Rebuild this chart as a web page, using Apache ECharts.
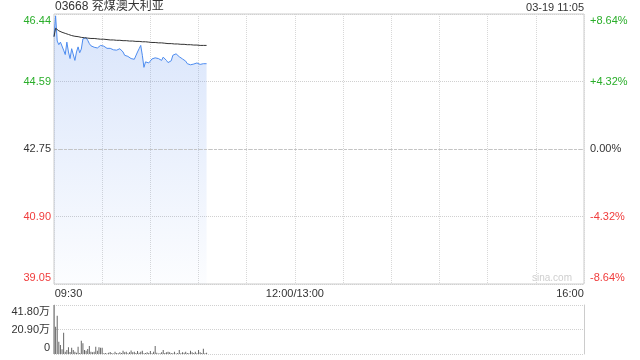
<!DOCTYPE html>
<html><head><meta charset="utf-8">
<script src="https://cdn.jsdelivr.net/npm/echarts@6/dist/echarts.min.js"></script>
<style>html,body{margin:0;padding:0;background:#fff}#c{width:640px;height:360px}</style>
</head><body><div id="c"></div>
<script>
const stockName = '03668 兖煤澳大利亚';
const stamp = '03-19 11:05';
const prevClose = 42.75;
const priceMin = 39.05, priceMax = 46.44;
const priceTicks = ['39.05', '40.90', '42.75', '44.59', '46.44'];
const pctTicks = ['-8.64%', '-4.32%', '0.00%', '+4.32%', '+8.64%'];
const timeTicks = { 0: '09:30', 150: '12:00/13:00', 330: '16:00' };
const volTicks = ['0', '20.90万', '41.80万'];
const volMax = 418000;

const prices = [
  45.82, 46.39, 45.70, 45.60, 45.67, 45.62, 45.45, 45.33, 45.67, 45.40,
  45.22, 45.49, 45.45, 45.17, 45.40, 45.54, 45.38, 45.48, 45.76, 45.78,
  45.79, 45.72, 45.63, 45.57, 45.55, 45.53, 45.49, 45.51, 45.54, 45.58,
  45.57, 45.56, 45.54, 45.50, 45.47, 45.50, 45.51, 45.46, 45.48, 45.45,
  45.47, 45.49, 45.44, 45.40, 45.31, 45.30, 45.28, 45.25, 45.22, 45.19,
  45.20, 45.22, 45.40, 45.49, 45.58, 45.31, 44.98, 45.13, 45.08, 45.10,
  45.15, 45.21, 45.17, 45.24, 45.20, 45.22, 45.24, 45.17, 45.26, 45.31,
  45.17, 45.11, 45.13, 45.16, 45.31, 45.35, 45.35, 45.33, 45.27, 45.23,
  45.21, 45.22, 45.15, 45.08, 45.03, 45.05, 45.08, 45.07, 45.08, 45.10,
  45.08, 45.06, 45.06, 45.08, 45.06, 45.08
];
const avgPrices = [
  45.82, 46.05, 46.01, 45.98, 45.96, 45.94, 45.92, 45.91, 45.90, 45.88,
  45.87, 45.85, 45.84, 45.83, 45.82, 45.82, 45.81, 45.80, 45.80, 45.79,
  45.79, 45.78, 45.78, 45.77, 45.77, 45.77, 45.76, 45.76, 45.76, 45.75,
  45.75, 45.75, 45.74, 45.74, 45.74, 45.73, 45.73, 45.73, 45.72, 45.72,
  45.72, 45.72, 45.71, 45.71, 45.71, 45.71, 45.70, 45.70, 45.70, 45.70,
  45.69, 45.69, 45.69, 45.69, 45.68, 45.68, 45.68, 45.68, 45.67, 45.67,
  45.67, 45.66, 45.66, 45.66, 45.65, 45.65, 45.65, 45.65, 45.64, 45.64,
  45.64, 45.63, 45.63, 45.63, 45.62, 45.62, 45.62, 45.62, 45.61, 45.61,
  45.61, 45.61, 45.60, 45.60, 45.60, 45.60, 45.59, 45.59, 45.59, 45.59,
  45.59, 45.58, 45.58, 45.58, 45.58, 45.58
];
const volumes = [
  418000, 233000, 327000, 105000, 77000, 40000, 182000, 20000, 34000, 57000,
  17000, 54000, 34000, 20000, 11000, 62000, 8000, 113000, 91000, 34000,
  28000, 43000, 68000, 20000, 14000, 20000, 62000, 28000, 57000, 54000,
  54000, 6000, 8000, 5000, 11000, 17000, 8000, 5000, 20000, 8000,
  6000, 14000, 9000, 28000, 14000, 20000, 7000, 14000, 30000, 14000,
  20000, 9000, 25000, 11000, 20000, 28000, 6000, 8000, 14000, 8000,
  25000, 7000, 20000, 68000, 11000, 5000, 6000, 14000, 34000, 8000,
  14000, 20000, 14000, 8000, 6000, 20000, 5000, 8000, 34000, 7000,
  14000, 11000, 20000, 8000, 6000, 28000, 14000, 8000, 20000, 7000,
  34000, 14000, 8000, 45000, 6000, 11000
];

const FONT = '"Liberation Sans", Arial, "Noto Sans CJK SC", sans-serif';
const GREEN = '#2aae2a', RED = '#f03c3c', DARK = '#333';
function rs(color, pad) { return { color: color, fontSize: 11, fontFamily: FONT, padding: pad }; }
const vRich = {
  gt: rs(GREEN, [13, 0, 0, 0]), g: rs(GREEN, 0), k: rs(DARK, 0), r: rs(RED, 0), rb: rs(RED, [0, 0, 13, 0]),
  kt: rs(DARK, [13, 0, 0, 0]), kb: rs(DARK, [0, 0, 12, 0])
};
const styleByIdx = ['rb', 'r', 'k', 'g', 'gt'];

const chart = echarts.init(document.getElementById('c'), null, { renderer: 'canvas' });
chart.setOption({
  animation: false,
  backgroundColor: '#fff',
  title: [
    { text: stockName, left: 55, top: 1, padding: 0, textStyle: { fontSize: 12, fontWeight: 'normal', color: DARK, fontFamily: FONT } },
    { text: stamp, right: 56, top: 2, padding: 0, textStyle: { fontSize: 11, fontWeight: 'normal', color: DARK, fontFamily: FONT } }
  ],
  graphic: [
    { type: 'text', left: 532, top: 273, silent: true, style: { text: 'sina.com', fill: '#cfcfcf', fontSize: 10, fontFamily: FONT } }
  ],
  grid: [
    { left: 54, width: 530, top: 14, height: 270, show: true, borderColor: '#ccc', borderWidth: 1, backgroundColor: 'transparent' },
    { left: 54, width: 530, top: 305, height: 49 }
  ],
  xAxis: [
    {
      gridIndex: 0, type: 'value', min: 0, max: 330, interval: 30,
      axisLine: { show: false }, axisTick: { show: false },
      splitLine: { show: true, lineStyle: { color: '#d8d8d8', type: 'dotted', width: 1 } },
      axisLabel: {
        margin: 4, fontSize: 11, color: DARK, fontFamily: FONT,
        formatter: function (v) {
          if (v === 0) return '{l|' + timeTicks[0] + '}';
          if (v === 330) return '{r|' + timeTicks[330] + '}';
          return timeTicks[v] || '';
        },
        rich: {
          l: { fontSize: 11, color: DARK, fontFamily: FONT, padding: [0, 0, 0, 29] },
          r: { fontSize: 11, color: DARK, fontFamily: FONT, padding: [0, 28, 0, 0] }
        }
      }
    },
    { gridIndex: 1, type: 'value', min: 0, max: 330, interval: 30, show: false }
  ],
  yAxis: [
    {
      gridIndex: 0, type: 'value', min: 0, max: 4, interval: 1, position: 'left',
      axisLine: { show: false }, axisTick: { show: false },
      splitLine: { show: true, lineStyle: { color: '#d0d0d0', type: 'dotted', width: 1 } },
      axisLabel: {
        margin: 3, fontSize: 11, fontFamily: FONT,
        formatter: function (v) { return '{' + styleByIdx[v] + '|' + priceTicks[v] + '}'; },
        rich: vRich
      }
    },
    {
      gridIndex: 0, type: 'value', min: 0, max: 4, interval: 1, position: 'right',
      axisLine: { show: false }, axisTick: { show: false }, splitLine: { show: false },
      axisLabel: {
        margin: 6, fontSize: 11, fontFamily: FONT,
        formatter: function (v) { return '{' + styleByIdx[v] + '|' + pctTicks[v] + '}'; },
        rich: vRich
      }
    },
    { gridIndex: 0, type: 'value', min: priceMin, max: priceMax, show: false, splitLine: { show: false } },
    {
      gridIndex: 1, type: 'value', min: 0, max: volMax, interval: volMax / 2, position: 'left',
      axisLine: { show: true, lineStyle: { color: '#ccc' } }, axisTick: { show: false },
      splitLine: { show: true, lineStyle: { color: '#d0d0d0', type: 'dotted', width: 1 } },
      axisLabel: {
        margin: 4, fontSize: 11, fontFamily: FONT,
        formatter: function (v) {
          const i = Math.round(v / (volMax / 2));
          const key = i === 2 ? 'kt' : (i === 0 ? 'kb' : 'k');
          return '{' + key + '|' + volTicks[i] + '}';
        },
        rich: vRich
      }
    },
    {
      gridIndex: 1, type: 'value', min: 0, max: volMax, interval: volMax / 2, position: 'right',
      axisLine: { show: true, lineStyle: { color: '#ccc' } }, axisTick: { show: false },
      axisLabel: { show: false }, splitLine: { show: false }
    }
  ],
  series: [
    {
      type: 'line', xAxisIndex: 0, yAxisIndex: 2, symbol: 'none',
      data: prices.map(function (p, i) { return [i, p]; }),
      lineStyle: { color: '#4d8cf0', width: 1 },
      itemStyle: { color: '#4d8cf0' },
      areaStyle: {
        origin: 'start',
        color: new echarts.graphic.LinearGradient(0, 0, 0, 1, [
          { offset: 0, color: 'rgba(110,155,240,0.38)' },
          { offset: 1, color: 'rgba(110,155,240,0.03)' }
        ])
      },
      markLine: {
        silent: true, symbol: ['none', 'none'], label: { show: false },
        lineStyle: { color: '#c4c4c4', type: [3, 2], width: 1 },
        data: [{ yAxis: prevClose }]
      },
      z: 3
    },
    {
      type: 'line', xAxisIndex: 0, yAxisIndex: 2, symbol: 'none',
      data: avgPrices.map(function (p, i) { return [i, p]; }),
      lineStyle: { color: '#333', width: 1 }, itemStyle: { color: '#333' }, z: 4
    },
    {
      type: 'bar', xAxisIndex: 1, yAxisIndex: 3, barWidth: 1,
      data: volumes.map(function (v, i) { return [i, v]; }),
      itemStyle: { color: '#666' }
    }
  ]
});
</script>
</body></html>
